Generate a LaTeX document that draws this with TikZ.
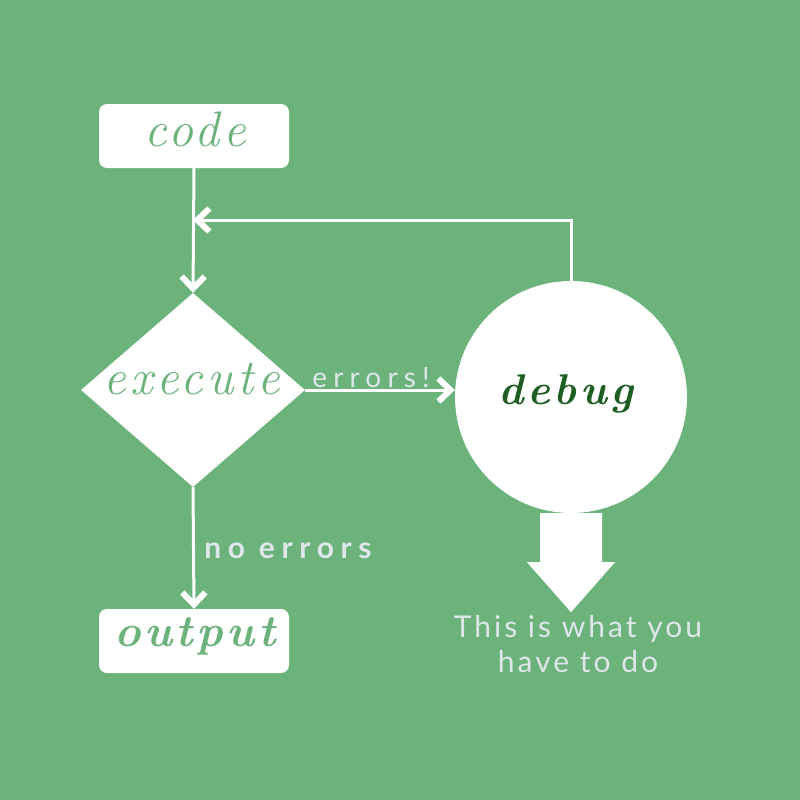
\documentclass[tikz,border=0pt]{standalone}
\usepackage{fontspec}
\newfontfamily\labelfont[LetterSpace=22]{Lato}
\newfontfamily\notefont[LetterSpace=10]{Lato}
\newfontfamily\handfont[LetterSpace=8]{Latin Modern Roman}
\usetikzlibrary{arrows.meta,shapes.geometric,calc}
\definecolor{bg}{HTML}{6BB37B}
\definecolor{lightgray}{HTML}{DFE6E9}
\definecolor{darkgreen}{HTML}{1E5E22}
\tikzset{
  box/.style={rectangle, rounded corners=8pt, fill=white, minimum width=190pt, minimum height=64pt, inner sep=0pt},
  boxtext/.style={text=bg, font=\fontsize{50}{54}\handfont\itshape},
  conn/.style={draw=white, line width=3pt, -{Straight Barb[length=12pt, width=23pt, line width=6pt]}},
  lbl/.style={text=lightgray, font=\fontsize{28}{30}\labelfont},
}
\begin{document}
\begin{tikzpicture}[x=1pt, y=-1pt]
\fill[bg] (0,0) rectangle (800,800);
\useasboundingbox (0,0) rectangle (800,800);

\node[box] (code) at (194,136) {};
\node[boxtext] (codet) at (195,129) {code};

\node[diamond, fill=white, minimum width=224pt, minimum height=194pt, inner sep=0pt] (exe) at (193,390) {};
\node[boxtext] (exet) at (192,379) {execute};

\node[circle, fill=white, minimum size=232pt, inner sep=0pt] (debug) at (571,397) {};
\node[text=darkgreen, font=\fontsize{43}{46}\handfont\itshape\bfseries] (debugt) at (566,394) {debug};

\node[box] (out) at (194,641) {};
\node[boxtext, font=\fontsize{45}{48}\handfont\itshape\bfseries] (outt) at (195,636) {output};

\coordinate (loop) at (193,220);
\draw[conn] (code.south) -- (exe.north);
\draw[conn] (debug.north) |- (loop);
\draw[conn] (exe.east) -- node[lbl, above, pos=0.44, inner sep=1pt] (errl) {errors!} (exe.east -| debug.west);
\draw[conn] (exe.south) -- node[lbl, font=\fontsize{30}{32}\labelfont\bfseries, right, pos=0.52, xshift=6pt] (noerr) {no errors} (out.north);

\fill[white] ($(debug.south)+(-31,0)$) -- ++(0,49) -- ++(-13,0) -- ($(debug.south)+(0,99)$) coordinate (btip)
  -- ($(debug.south)+(44,49)$) -- ++(-13,0) -- ($(debug.south)+(31,0)$) -- cycle;
\node[text=lightgray, font=\fontsize{30}{35}\notefont, align=center, below, inner sep=0pt] (note) at ($(btip)+(7,3)$) {This is what you\\have to do};
\end{tikzpicture}
\end{document}
